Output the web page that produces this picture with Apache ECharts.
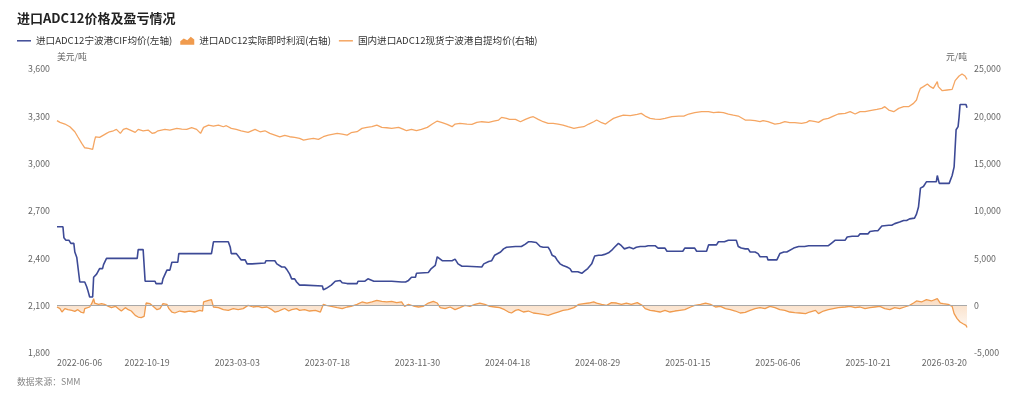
<!DOCTYPE html>
<html>
<head>
<meta charset="utf-8">
<script src="https://cdn.jsdelivr.net/npm/echarts@6/dist/echarts.min.js"></script>
<style>
html,body{margin:0;padding:0;background:#fff;}
#chart{width:1024px;height:399px;}
</style>
</head>
<body>
<div id="chart"></div>
<script>
// ---- Calendar (Chinese trading days) ----
const startDate = '2022-06-06';
const endDate = '2026-03-20';
const holidays = [
  '2022-09-12','2022-10-03','2022-10-04','2022-10-05','2022-10-06','2022-10-07',
  '2023-01-02','2023-01-23','2023-01-24','2023-01-25','2023-01-26','2023-01-27',
  '2023-04-05','2023-05-01','2023-05-02','2023-05-03','2023-06-22','2023-06-23',
  '2023-09-29','2023-10-02','2023-10-03','2023-10-04','2023-10-05','2023-10-06',
  '2024-01-01','2024-02-09','2024-02-12','2024-02-13','2024-02-14','2024-02-15','2024-02-16',
  '2024-04-04','2024-04-05','2024-05-01','2024-05-02','2024-05-03','2024-06-10',
  '2024-09-16','2024-09-17','2024-10-01','2024-10-02','2024-10-03','2024-10-04','2024-10-07',
  '2025-01-01','2025-01-28','2025-01-29','2025-01-30','2025-01-31','2025-02-03','2025-02-04',
  '2025-04-04','2025-05-01','2025-05-02','2025-05-05','2025-06-02',
  '2025-10-01','2025-10-02','2025-10-03','2025-10-06','2025-10-07','2025-10-08',
  '2026-01-01','2026-01-02','2026-02-16','2026-02-17','2026-02-18','2026-02-19','2026-02-20','2026-02-23'
];
function pad(n){return n<10?'0'+n:''+n;}
function buildDates(){
  const out=[]; const hs=new Set(holidays);
  const d=new Date(startDate+'T00:00:00Z'); const e=new Date(endDate+'T00:00:00Z');
  while(d<=e){
    const wd=d.getUTCDay();
    const s=d.getUTCFullYear()+'-'+pad(d.getUTCMonth()+1)+'-'+pad(d.getUTCDate());
    if(wd!==0&&wd!==6&&!hs.has(s)) out.push(s);
    d.setUTCDate(d.getUTCDate()+1);
  }
  return out;
}
const dates = buildDates();

// ---- Series: 进口ADC12宁波港CIF均价 (USD/t), trading-day index -> value ----
const cifDay = [0,6,7,9,12,14,17,18,20,22,23,28,30,31,32,33,36,37,39,40,43,46,47,49,50,81,82,87,89,99,100,106,107,109,111,114,116,122,123,156,158,173,175,176,181,183,186,190,192,197,198,210,211,220,222,227,230,232,235,237,240,242,245,250,252,268,269,272,277,281,286,288,293,303,304,311,314,320,338,340,348,350,352,355,358,362,363,375,378,382,384,389,399,402,405,409,414,416,429,431,436,439,442,448,451,454,463,469,473,476,479,481,484,488,491,496,498,500,503,505,508,511,515,518,520,526,528,530,533,536,540,543,547,550,553,557,560,563,567,570,573,578,582,585,589,594,597,604,607,614,616,632,634,644,646,656,658,666,668,674,678,686,688,691,695,698,700,705,708,710,717,718,727,728,730,734,737,739,744,749,755,759,779,782,786,796,798,803,809,811,816,819,821,826,829,833,840,843,846,851,855,858,861,866,868,870,872,875,877,878,888,889,891,893,901,904,906,908,910,911,912,914,918,919];
const cifUsd = [2600,2600,2530,2515,2515,2495,2495,2440,2405,2405,2250,2250,2220,2200,2200,2155,2155,2280,2280,2300,2335,2335,2360,2360,2400,2400,2455,2455,2255,2255,2240,2240,2270,2270,2325,2325,2375,2375,2430,2430,2505,2505,2470,2430,2430,2415,2390,2390,2365,2365,2370,2370,2385,2385,2365,2345,2345,2330,2300,2270,2270,2250,2230,2230,2225,2225,2200,2210,2230,2255,2260,2245,2240,2240,2255,2255,2270,2255,2255,2250,2250,2255,2250,2260,2280,2280,2305,2310,2335,2355,2410,2385,2385,2395,2365,2350,2350,2345,2345,2365,2380,2385,2420,2440,2460,2470,2475,2475,2490,2505,2505,2510,2500,2475,2470,2470,2450,2420,2410,2390,2365,2355,2345,2335,2315,2315,2305,2305,2320,2335,2365,2415,2420,2420,2425,2435,2450,2470,2495,2480,2460,2470,2460,2470,2475,2475,2480,2480,2465,2465,2445,2445,2465,2465,2445,2445,2485,2485,2505,2505,2515,2515,2475,2465,2460,2460,2440,2440,2430,2410,2410,2390,2390,2380,2430,2440,2440,2450,2465,2475,2475,2480,2480,2495,2515,2515,2535,2540,2540,2555,2555,2555,2570,2575,2575,2605,2610,2610,2620,2630,2640,2640,2650,2655,2680,2725,2845,2855,2855,2885,2885,2925,2875,2875,2875,2925,2980,3215,3235,3295,3375,3375,3375,3355];

// ---- Series: 进口ADC12实际即时利润 (CNY/t) ----
const profitDay = [0,3,5,8,11,15,18,21,24,27,28,30,33,35,37,38,42,45,48,52,55,59,62,65,69,72,75,79,82,85,88,90,94,97,101,104,107,111,113,116,119,124,129,134,139,144,147,148,153,156,158,163,168,173,178,183,188,193,198,203,207,212,217,220,224,227,230,234,237,242,245,250,255,261,266,269,272,277,283,288,293,297,303,308,313,318,323,328,333,338,343,348,351,355,360,365,370,375,380,384,387,392,397,402,407,412,417,422,427,432,437,442,447,452,456,459,463,466,471,476,481,486,491,496,501,506,511,516,522,527,532,537,542,545,550,555,560,565,570,575,580,586,591,594,599,604,609,614,619,624,629,634,640,644,650,655,660,665,670,675,680,685,690,695,700,705,710,715,720,725,730,735,740,745,750,756,760,766,769,774,779,784,789,796,801,806,811,816,821,826,831,836,841,846,851,856,861,865,868,873,878,883,889,892,895,900,904,906,909,912,915,918,919];
const profitCny = [-140,-315,-670,-315,-425,-495,-600,-425,-670,-775,-315,-495,-140,210,740,280,140,210,140,-70,-210,-70,-315,-565,-210,-425,-565,-1020,-1200,-1270,-1130,280,210,-70,-425,-315,210,140,-315,-670,-775,-565,-670,-565,-670,-495,-565,390,565,635,-140,-210,-425,-495,-315,-425,-315,35,-140,-70,-210,-140,-425,-670,-565,-425,-300,-565,-425,-315,-495,-425,-565,-495,-670,140,35,-70,-210,-315,-140,-70,140,390,280,390,565,460,390,460,315,390,-70,140,-35,-140,-70,280,460,280,-210,-315,-140,-425,-210,35,-70,140,280,140,-70,-140,-210,-425,-670,-775,-495,-425,-670,-565,-775,-845,-915,-1020,-845,-670,-495,-425,-210,140,210,280,390,280,140,35,315,280,140,280,140,315,35,-315,-495,-565,-670,-495,-670,-565,-495,-425,-140,35,140,280,140,-140,-70,-315,-425,-565,-775,-700,-495,-315,-210,-315,-70,-210,-425,-495,-670,-740,-775,-845,-670,-495,-845,-565,-425,-315,-210,-140,-70,-210,-140,-315,-210,-140,-70,-315,-425,-210,-315,-140,35,280,495,390,635,495,740,280,210,140,-70,-845,-1375,-1725,-1905,-2080,-2300];

// ---- Series: 国内进口ADC12现货宁波港自提均价 (CNY/t) ----
const spotDay = [0,3,8,13,18,21,25,28,32,36,38,39,43,47,50,53,57,60,64,67,70,74,79,82,87,92,96,99,102,109,114,121,126,131,136,141,145,148,153,158,163,168,171,176,181,186,193,200,205,210,215,220,225,230,235,240,245,249,254,259,264,269,274,283,288,293,297,303,308,313,318,323,328,333,338,345,350,353,358,363,368,374,379,384,389,394,399,402,407,414,419,424,429,436,441,446,449,454,457,463,468,473,478,481,486,491,496,501,506,511,516,522,527,532,537,542,545,550,554,557,562,567,572,579,586,590,594,599,604,609,614,621,628,633,638,644,651,658,663,668,673,678,683,688,695,700,705,710,713,718,725,730,735,740,745,752,757,760,766,769,774,779,784,789,796,801,806,811,816,821,828,833,836,840,845,850,855,860,865,868,870,872,875,879,882,885,889,890,894,899,904,907,911,914,917,919];
const spotCny = [19550,19360,19185,18900,18370,17840,17145,16680,16605,16500,17490,17840,17780,18020,18200,18370,18475,18620,18200,18620,18730,18550,18305,18620,18475,18550,18200,18265,18475,18620,18550,18730,18655,18620,18795,18620,18200,18835,19080,18975,19080,18900,19010,18730,18620,18475,18305,18620,18370,18475,18200,18020,17840,18000,17845,17775,17670,17495,17600,17670,17565,17845,18020,18200,18130,18020,18270,18375,18725,18835,18905,19080,18835,18795,18725,18835,18620,18480,18620,18480,18620,18835,19185,19500,19325,19150,18905,19185,19255,19185,19150,19360,19430,19360,19500,19610,19890,19785,19680,19680,19430,19680,19890,19960,19680,19430,19255,19255,19185,19080,18905,18725,18835,18905,19185,19430,19610,19325,19185,19430,19785,19960,20135,20065,20205,20315,20030,19785,19715,19680,19785,19960,20030,20030,20245,20385,20490,20490,20385,20455,20385,20245,20135,20030,19610,19610,19540,19430,19540,19430,19185,19255,19430,19325,19325,19255,19360,19540,19430,19360,19680,19785,20030,20245,20315,20490,20245,20490,20490,20595,20735,20840,21020,20665,20490,20840,21020,21020,21370,21725,22430,22955,23135,23415,23135,22955,23660,23135,22710,22780,22850,23770,24260,24470,24260,23910];

// ---- Text ----
const titleText = '进口ADC12价格及盈亏情况';
const seriesNames = ['进口ADC12宁波港CIF均价(左轴)','进口ADC12实际即时利润(右轴)','国内进口ADC12现货宁波港自提均价(右轴)'];
const leftAxisName = '美元/吨';
const rightAxisName = '元/吨';
const sourceText = '数据来源：SMM';

function pairs(days, vals){ return days.map((d,k)=>[dates[d], vals[k]]); }
const lastIdx = dates.length - 1;
const FONT = '"Noto Sans CJK SC", "Noto Sans", sans-serif';
const fmt = v => v.toLocaleString('en-US');
const lineIcon = 'path://M0,0 L28,0 L28,3 L0,3 Z';
const areaIcon = 'path://M0,6 L4,3 L8,5 L12,1 L16,4 L16,10 L0,10 Z';

const chart = echarts.init(document.getElementById('chart'), null, {renderer:'canvas'});
chart.setOption({
  animation:false,
  backgroundColor:'#ffffff',
  textStyle:{fontFamily:FONT},
  title:{text:titleText,left:17,top:12,padding:0,
    textStyle:{fontSize:13,fontWeight:'bold',color:'#222',fontFamily:FONT}},
  legend:{left:17,top:36,padding:0,itemWidth:14,itemHeight:9,itemGap:8,
    textStyle:{fontSize:9.6,color:'#333',fontFamily:FONT},
    data:[
      {name:seriesNames[0],icon:lineIcon},
      {name:seriesNames[1],icon:areaIcon},
      {name:seriesNames[2],icon:lineIcon}
    ]},
  grid:{left:57,right:57,top:69,bottom:46,containLabel:false,outerBoundsMode:'none'},
  xAxis:{type:'category',data:dates,boundaryGap:false,
    axisLine:{show:false},axisTick:{show:false},splitLine:{show:false},
    axisLabel:{fontSize:8.8,color:'#666',margin:5,fontFamily:FONT,
      interval:(i)=> (i%91===0 && lastIdx-i>=91) || i===lastIdx,
      showMinLabel:true,showMaxLabel:true,hideOverlap:false,
      alignMinLabel:'left',alignMaxLabel:'right'}},
  yAxis:[
    {type:'value',min:1800,max:3600,interval:300,position:'left',
      name:leftAxisName,nameGap:8,nameTextStyle:{fontSize:8.8,color:'#666',align:'left',fontFamily:FONT},
      axisLine:{show:false},axisTick:{show:false},splitLine:{show:false},
      axisLabel:{fontSize:8.8,color:'#666',margin:7,formatter:fmt,fontFamily:FONT}},
    {type:'value',min:-5000,max:25000,interval:5000,position:'right',
      name:rightAxisName,nameGap:8,nameTextStyle:{fontSize:8.8,color:'#666',align:'right',fontFamily:FONT},
      axisLine:{show:false},axisTick:{show:false},splitLine:{show:false},
      axisLabel:{fontSize:8.8,color:'#666',margin:7,formatter:fmt,fontFamily:FONT}}
  ],
  series:[
    {name:seriesNames[0],type:'line',yAxisIndex:0,data:pairs(cifDay,cifUsd),
      symbol:'none',z:4,color:'#3d4a96',lineStyle:{width:1.6,color:'#3d4a96'}},
    {name:seriesNames[1],type:'line',yAxisIndex:1,data:pairs(profitDay,profitCny),
      symbol:'none',z:2,color:'#f09b4e',lineStyle:{width:1.3,color:'#f09b4e'},
      areaStyle:{origin:0,color:new echarts.graphic.LinearGradient(0,0,0,1,[
        {offset:0,color:'rgba(240,155,78,0.5)'},{offset:1,color:'rgba(240,155,78,0.1)'}])},
      markLine:{silent:true,symbol:'none',label:{show:false},
        lineStyle:{color:'#a8a8a8',width:1,type:'solid'},data:[{yAxis:0}]}},
    {name:seriesNames[2],type:'line',yAxisIndex:1,data:pairs(spotDay,spotCny),
      symbol:'none',z:3,color:'#f5a663',lineStyle:{width:1.3,color:'#f5a663'}}
  ],
  graphic:[{type:'text',left:17,top:377,style:{text:sourceText,fontSize:8.8,fill:'#888',fontFamily:FONT}}]
});
</script>
</body>
</html>
